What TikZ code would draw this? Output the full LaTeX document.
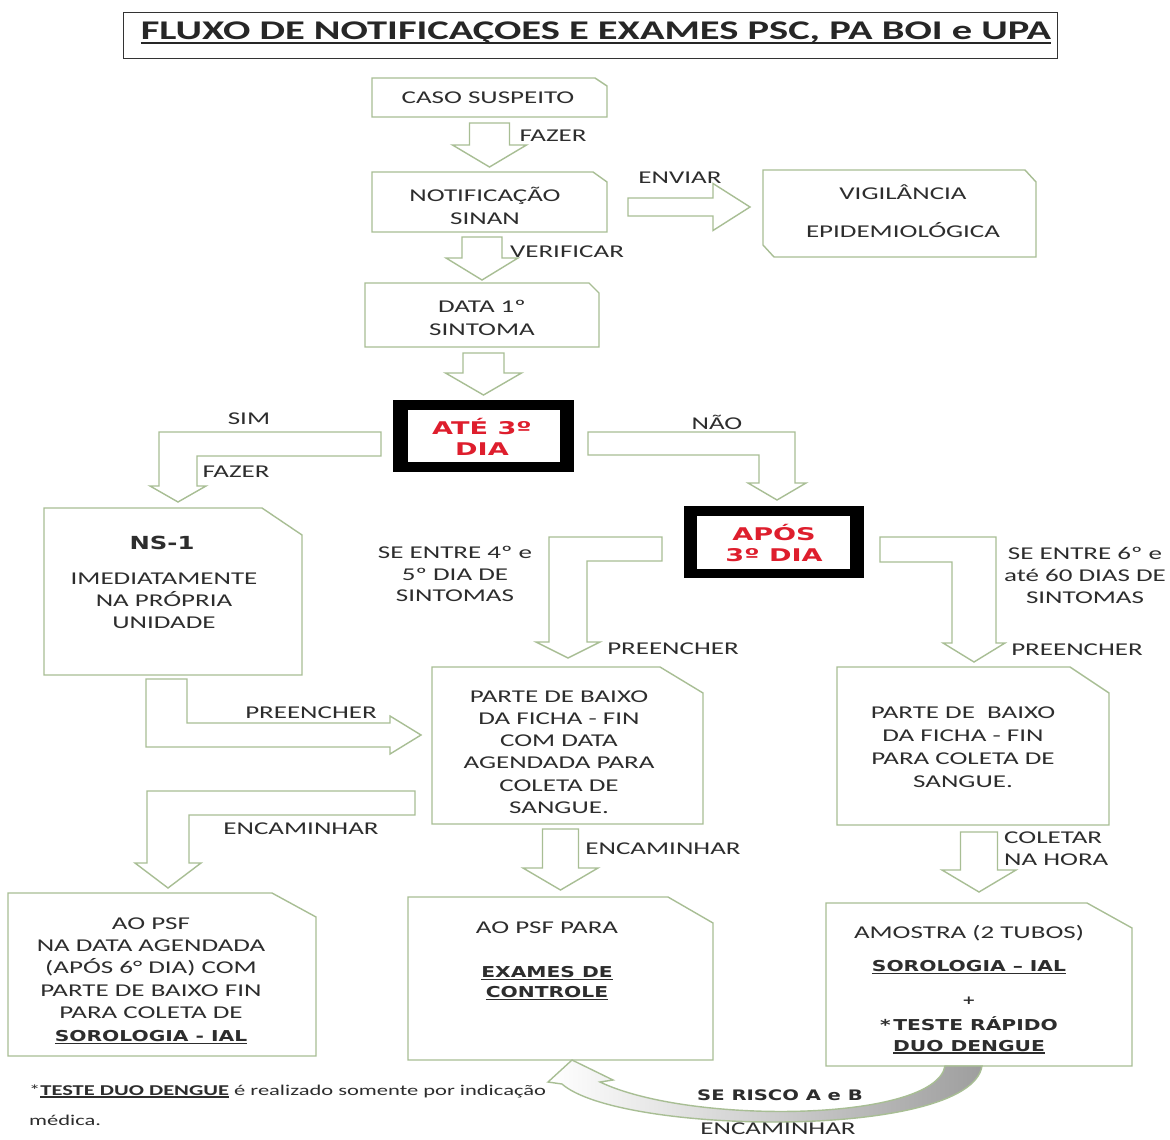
\documentclass[tikz,border=0pt]{standalone}
\usepackage{fontspec}
\setmainfont[FakeStretch=1.5]{Carlito}
\newfontfamily\dvb[FakeStretch=1.35]{DejaVu Sans}
\newfontfamily\dvr[FakeStretch=1.55]{DejaVu Sans}
\usetikzlibrary{calc}
\definecolor{boxgreen}{RGB}{168,190,148}
\definecolor{txtgray}{RGB}{45,45,45}
\definecolor{alertred}{RGB}{222,30,45}
\newsavebox\ulbox
\newcommand\myul[1]{\sbox\ulbox{#1}\rlap{\rule[-2.6pt]{\wd\ulbox}{1.3pt}}\usebox\ulbox}
\newcommand\ttlul[1]{\sbox\ulbox{#1}\rlap{\rule[-4.5pt]{\wd\ulbox}{2pt}}\usebox\ulbox}
% down block arrow: from, to, half shaft, half head, head length, top gap, tip gap
\newcommand\dnarrow[7]{%
  \draw[blk] let \p1=(#1.south), \p2=(#2.north) in
    (\x2-#3,\y1-#6) -- (\x2-#3,\y2+#7+#5) -- (\x2-#4,\y2+#7+#5) -- (\x2,\y2+#7)
    -- (\x2+#4,\y2+#7+#5) -- (\x2+#3,\y2+#7+#5) -- (\x2+#3,\y1-#6) -- cycle;}
% box with snipped top-right corner: node, cut x, cut y
\newcommand\snipNE[3]{%
  \draw[boxln] (#1.south west) |- ([xshift=-#2]#1.north east) -- ([yshift=-#3]#1.north east) |- (#1.south west) -- cycle;}
\begin{document}
\begin{tikzpicture}[x=1pt,y=-1pt,
  boxln/.style={draw=boxgreen, line width=1.4pt, fill=white},
  blk/.style={draw=boxgreen, line width=1.4pt, fill=white, line join=miter},
  frame/.style={draw=none, inner sep=0, outer sep=0},
  txt/.style={text=txtgray, font=\fontsize{18}{22}\selectfont, align=center, inner sep=0},
  btxt/.style={text=txtgray, font={\dvb\bfseries\fontsize{15}{20}\selectfont}, align=center, inner sep=0},
  redtxt/.style={text=alertred, font={\dvr\bfseries\fontsize{17.5}{20.5}\selectfont}, align=center, inner sep=0},
  blackbox/.style={fill=black, inner sep=0, outer sep=0}]
\useasboundingbox (0,0) rectangle (1170,1140);
\fill[white] (0,0) rectangle (1170,1140);

% ---------- title ----------
\node[draw=black!80, line width=0.9pt, minimum width=934pt, minimum height=46pt, inner sep=0] (titlebox) at (590,35) {};
\node[inner sep=0, text=black!85, font=\bfseries\fontsize{27}{30}\selectfont] (title) at (596,33) {\ttlul{FLUXO DE NOTIFICAÇOES E EXAMES PSC, PA BOI e UPA}};

% ---------- boxes ----------
\node[frame, minimum width=235pt, minimum height=39pt] (caso) at (489.5,97.5) {};
\node[frame, minimum width=235pt, minimum height=60pt] (notif) at (489.5,202) {};
\node[frame, minimum width=234pt, minimum height=64pt] (data) at (482,315) {};
\node[frame, minimum width=273pt, minimum height=87pt] (vig) at (899.5,213.5) {};
\node[frame, minimum width=258pt, minimum height=167pt] (ns1) at (173,591.5) {};
\node[frame, minimum width=271pt, minimum height=157pt] (mid) at (567.5,745.5) {};
\node[frame, minimum width=272pt, minimum height=158pt] (rbox) at (973,746) {};
\node[frame, minimum width=308pt, minimum height=163pt] (psf1) at (162,974.5) {};
\node[frame, minimum width=305pt, minimum height=163pt] (psf2) at (560.5,978.5) {};
\node[frame, minimum width=306pt, minimum height=163pt] (amostra) at (979,984.5) {};

\snipNE{caso}{12pt}{8pt}
\snipNE{notif}{14pt}{10pt}
\snipNE{data}{10pt}{10pt}
\draw[boxln] ([yshift=12pt]vig.south west) |- ([xshift=-11pt]vig.north east) -- ([yshift=-12pt]vig.north east) |- ([xshift=11pt]vig.south west) -- cycle;
\snipNE{ns1}{40pt}{27pt}
\snipNE{mid}{43pt}{26pt}
\snipNE{rbox}{39pt}{26pt}
\snipNE{psf1}{44pt}{24pt}
\snipNE{psf2}{45pt}{26pt}
\snipNE{amostra}{45pt}{25pt}

% black framed decision boxes
\node[blackbox, minimum width=181pt, minimum height=72pt] (ate) at (483.5,436) {};
\fill[white] ([xshift=15pt,yshift=-10pt]ate.north west) rectangle ([xshift=-14pt,yshift=10pt]ate.south east);
\node[blackbox, minimum width=180pt, minimum height=72pt] (apos) at (774,542) {};
\fill[white] ([xshift=13pt,yshift=-10pt]apos.north west) rectangle ([xshift=-14pt,yshift=9pt]apos.south east);

% ---------- straight block arrows ----------
\dnarrow{caso}{notif}{20pt}{37pt}{22pt}{6pt}{5pt}
\dnarrow{notif}{data}{20pt}{36pt}{22pt}{5pt}{3pt}
\dnarrow{data}{ate}{20.5pt}{38pt}{22pt}{6pt}{5pt}
\dnarrow{mid}{psf2}{18pt}{37.5pt}{22pt}{5pt}{7pt}
\dnarrow{rbox}{amostra}{18.5pt}{37pt}{22pt}{7pt}{11pt}
\draw[blk] let \p1=(notif.east), \p2=(vig.west) in
  (\x1+21pt,\y1+4pt) -- (\x2-50pt,\y1+4pt) -- (\x2-50pt,\y1+18.5pt) -- (\x2-13pt,\y1-5pt)
  -- (\x2-50pt,\y1-28.5pt) -- (\x2-50pt,\y1-14pt) -- (\x1+21pt,\y1-14pt) -- cycle;

% ---------- bent block arrows ----------
% SIM: ate -> ns1
\draw[blk] (381,432) -- (159,432) -- (159,486) -- (150,486) -- (178,502) -- (206,486) -- (197,486) -- (197,456) -- (381,456) -- cycle;
% NAO: ate -> apos
\draw[blk] (588,432) -- (795,432) -- (795,483) -- (806,483) -- (777,500) -- (748,483) -- (759,483) -- (759,455) -- (588,455) -- cycle;
% apos -> mid
\draw[blk] (662,537) -- (549,537) -- (549,642) -- (536,642) -- (568,658) -- (600,642) -- (587,642) -- (587,561) -- (662,561) -- cycle;
% apos -> rbox
\draw[blk] (880,537) -- (996,537) -- (996,643) -- (1005,643) -- (974,662) -- (943,643) -- (952,643) -- (952,562) -- (880,562) -- cycle;
% ns1 -> mid
\draw[blk] (146,679) -- (187,679) -- (187,723) -- (390,723) -- (390,716) -- (421,735) -- (390,754) -- (390,747) -- (146,747) -- cycle;
% mid -> psf1
\draw[blk] (415,791) -- (147,791) -- (147,863) -- (135,863) -- (168,888) -- (201,863) -- (189,863) -- (189,815) -- (415,815) -- cycle;
% curved: amostra -> psf2
\shadedraw[left color=white, middle color=white, right color=black!38, draw=boxgreen, line width=1.4pt, line join=miter]
  (572,1060) -- (548,1082) -- (562,1084) .. controls (620,1135) and (970,1140) .. (982,1066)
  -- (945,1066) .. controls (935,1122) and (690,1125) .. (600,1082) -- (613,1080) -- cycle;

% ---------- box texts ----------
\node[txt] (tcaso) at (488,98) {CASO SUSPEITO};
\node[txt, font=\fontsize{18}{23}\selectfont] (tnotif) at (485,206) {NOTIFICAÇÃO\\SINAN};
\node[txt, font=\fontsize{18}{38}\selectfont] (tvig) at (903,211) {VIGILÂNCIA\\EPIDEMIOLÓGICA};
\node[txt, font=\fontsize{18}{23}\selectfont] (tdata) at (482,318) {DATA 1º\\SINTOMA};
\node[redtxt] (tate) at (482,437) {ATÉ 3º\\DIA};
\node[redtxt] (tapos) at (774,543) {APÓS\\3º DIA};
\node[btxt, font={\dvb\bfseries\fontsize{18}{22}\selectfont}] (tns1) at (162,543) {NS-1};
\node[txt] (tns1b) at (164,601) {IMEDIATAMENTE\\NA PRÓPRIA\\UNIDADE};
\node[txt, font=\fontsize{18}{22.3}\selectfont] (tmid) at (559,752) {PARTE DE BAIXO\\DA FICHA - FIN\\COM DATA\\AGENDADA PARA\\COLETA DE\\SANGUE.};
\node[txt, font=\fontsize{18}{23}\selectfont] (trbox) at (963,747) {PARTE DE \ BAIXO\\DA FICHA - FIN\\PARA COLETA DE\\SANGUE.};
\node[txt, font=\fontsize{18}{22.3}\selectfont] (tpsf1) at (151,968) {AO PSF\\NA DATA AGENDADA\\(APÓS 6° DIA) COM\\PARTE DE BAIXO FIN\\PARA COLETA DE};
\node[btxt] (tpsf1b) at (151,1037) {\myul{SOROLOGIA - IAL}};
\node[txt] (tpsf2) at (547,928) {AO PSF PARA};
\node[btxt] (tpsf2b) at (547,983) {\myul{EXAMES DE}\\\myul{CONTROLE}};
\node[txt] (tam1) at (969,933) {AMOSTRA (2 TUBOS)};
\node[btxt] (tam2) at (969,967) {\myul{SOROLOGIA – IAL}};
\node[btxt, font={\dvb\bfseries\fontsize{12}{14}\selectfont}] (tam3) at (969,1001) {+};
\node[btxt, font={\dvb\bfseries\fontsize{15}{21}\selectfont}] (tam4) at (969,1035) {*\,TESTE RÁPIDO\\\myul{DUO DENGUE}};

% ---------- arrow labels ----------
\node[txt] (l1) at (553,136) {FAZER};
\node[txt] (l2) at (567,252) {VERIFICAR};
\node[txt] (l3) at (680,178) {ENVIAR};
\node[txt] (l4) at (249,419) {SIM};
\node[txt] (l5) at (236,472) {FAZER};
\node[txt] (l6) at (717,422) {NÃO};
\node[txt, font=\fontsize{18}{21.5}\selectfont] (l7) at (455,574) {SE ENTRE 4º e\\5º DIA DE\\SINTOMAS};
\node[txt] (l8) at (1085,575) {SE ENTRE 6º e\\até 60 DIAS DE\\SINTOMAS};
\node[txt] (l9) at (673,649) {PREENCHER};
\node[txt] (l10) at (1077,650) {PREENCHER};
\node[txt] (l11) at (311,713) {PREENCHER};
\node[txt] (l12) at (301,829) {ENCAMINHAR};
\node[txt] (l13) at (663,849) {ENCAMINHAR};
\node[txt, align=left, anchor=west] (l14) at (1004,849) {COLETAR\\NA HORA};
\node[btxt, font={\dvb\bfseries\fontsize{14.5}{18}\selectfont}] (l15) at (780,1095) {SE RISCO A e B};
\node[txt] (l16) at (778,1129) {ENCAMINHAR};

% ---------- footnote ----------
\node[txt, anchor=west, font=\fontsize{15}{18}\selectfont] (foot1) at (29,1091) {*{\bfseries\myul{TESTE DUO DENGUE}} é realizado somente por indicação};
\node[txt, anchor=west, font=\fontsize{15}{18}\selectfont] (foot2) at (29,1120) {médica.};
\end{tikzpicture}
\end{document}
